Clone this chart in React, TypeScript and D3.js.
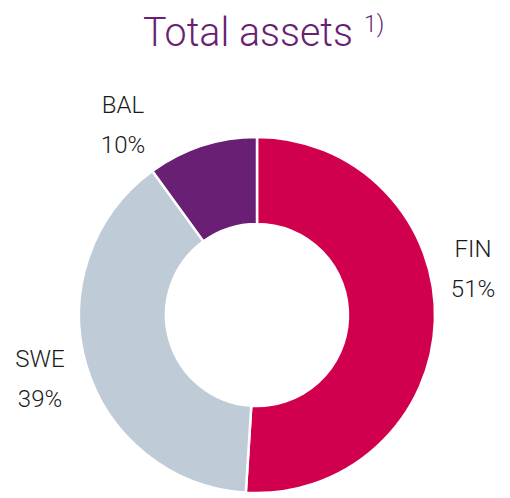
import React from "react";
import * as d3 from "d3";

const categories = ["FIN", "SWE", "BAL"];
const values = [51, 39, 10];
const colors = ["#D0004F", "#BFCBD7", "#691F74"];
const labelPos: [number, number][] = [[473, 257], [40, 367], [123, 113]];

export default function App() {
  const W = 510, H = 498;
  const cx = 257, cy = 315, R = 178, r = 91;
  const pie = d3.pie<number>().sort(null).value((d) => d);
  const arcs = pie(values);
  const arc = d3.arc<d3.PieArcDatum<number>>().innerRadius(r).outerRadius(R);
  const font = "Roboto, 'Open Sans', sans-serif";
  return (
    <svg width={W} height={H} style={{ position: "absolute", left: 0, top: 0 }}>
      <text x={143} y={46} fill="#6A1F74" fontFamily={font} fontWeight={300} fontSize={41} textLength={210} lengthAdjust="spacingAndGlyphs">
        Total assets
      </text>
      <text x={364} y={32} fill="#6A1F74" fontFamily={font} fontWeight={300} fontSize={23}>
        1)
      </text>
      <g transform={`translate(${cx},${cy})`}>
        {arcs.map((a, i) => (
          <path key={i} d={arc(a) || ""} fill={colors[i]} stroke="#fff" strokeWidth={2.5} />
        ))}
      </g>
      {categories.map((c, i) => (
        <g key={c} fontFamily={font} fontWeight={300} fontSize={24} fill="#1a1a1a" textAnchor="middle">
          <text x={labelPos[i][0]} y={labelPos[i][1]}>{c}</text>
          <text x={labelPos[i][0]} y={labelPos[i][1] + 40}>{values[i]}%</text>
        </g>
      ))}
    </svg>
  );
}
